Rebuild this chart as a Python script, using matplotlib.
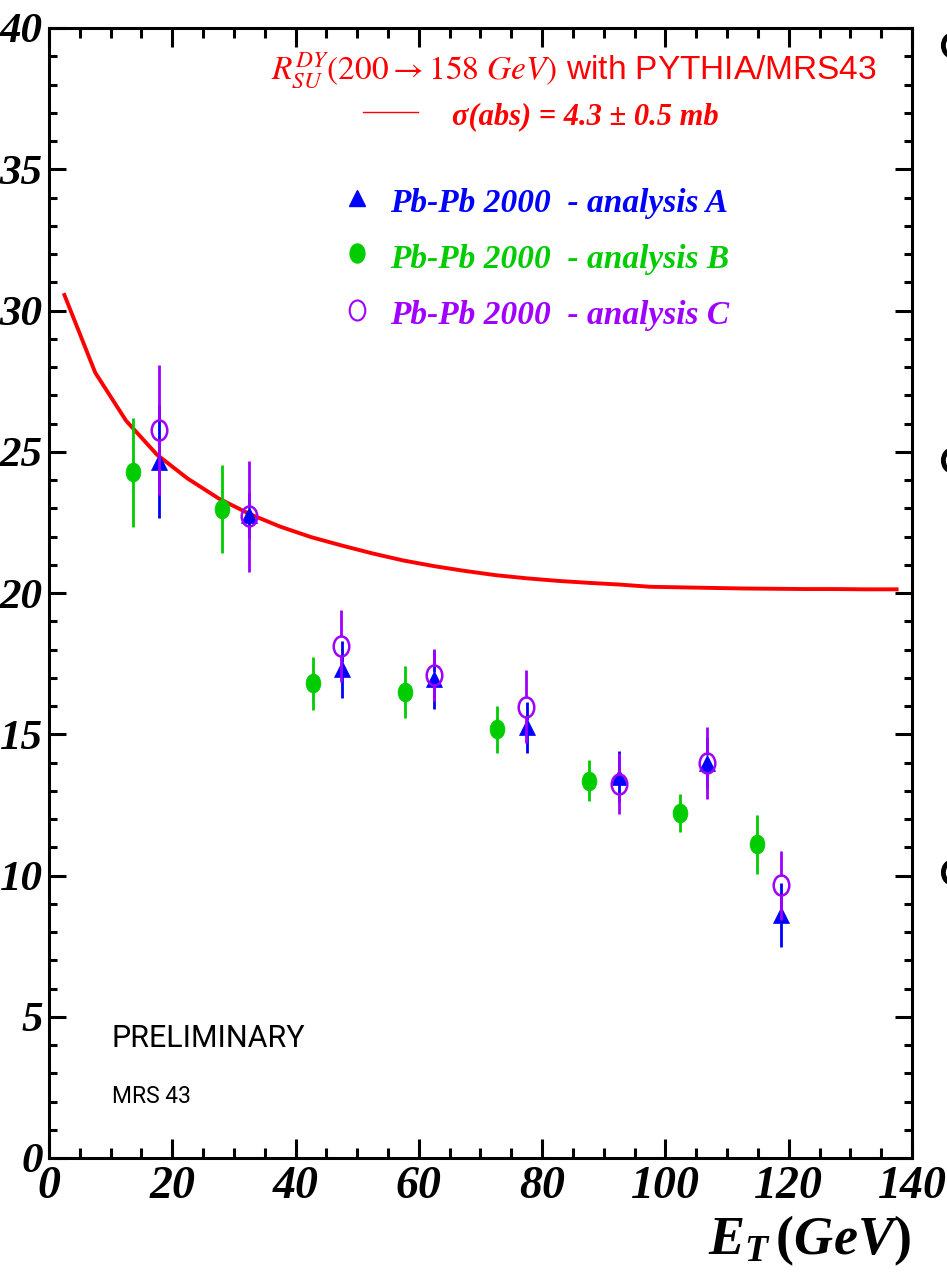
import matplotlib
matplotlib.use("Agg")
import matplotlib.pyplot as plt
from matplotlib.path import Path
from matplotlib.transforms import Affine2D
from matplotlib.ticker import MultipleLocator
from matplotlib.lines import Line2D

# ---------------- data ----------------
curve_x = [2.5, 7.5, 12.5, 17.5, 22.5, 27.5, 32.5, 37.5, 42.5, 47.5, 52.5, 57.5,
           62.5, 67.5, 72.5, 77.5, 82.5, 87.5, 92.5, 97.5, 102.5, 107.5, 112.5,
           117.5, 122.5, 127.5, 132.5, 137.5]
curve_y = [30.55, 27.8, 26.1, 24.9, 24.05, 23.35, 22.8, 22.35, 21.98, 21.68, 21.4,
           21.15, 20.95, 20.78, 20.63, 20.52, 20.43, 20.36, 20.3, 20.22, 20.2, 20.18,
           20.16, 20.15, 20.14, 20.14, 20.13, 20.13]

A_x = [17.8, 32.5, 47.5, 62.5, 77.5, 92.5, 106.8, 118.7]
A_y = [24.65, 22.75, 17.3, 16.95, 15.25, 13.5, 14.0, 8.6]
A_err = [2.0, 0.8, 1.0, 1.05, 0.9, 0.9, 0.9, 1.12]

B_x = [13.7, 28.1, 42.9, 57.8, 72.7, 87.6, 102.4, 114.8]
B_y = [24.27, 22.97, 16.8, 16.5, 15.18, 13.36, 12.22, 11.1]
B_err = [1.93, 1.55, 0.95, 0.93, 0.83, 0.74, 0.67, 1.05]

C_x = [17.8, 32.5, 47.4, 62.5, 77.4, 92.5, 106.7, 118.7]
C_y = [25.77, 22.72, 18.13, 17.1, 15.98, 13.25, 13.99, 9.65]
C_err = [2.3, 1.96, 1.27, 0.92, 1.28, 1.07, 1.27, 1.22]

legend_labels = ["Pb-Pb 2000  - analysis A",
                 "Pb-Pb 2000  - analysis B",
                 "Pb-Pb 2000  - analysis C"]

RED = "#ff0000"
BLUE = "#0000ff"
GREEN = "#00cc00"
PURPLE = "#a000ff"

plt.rcParams["mathtext.fontset"] = "custom"
plt.rcParams["mathtext.it"] = "Liberation Serif:italic:bold"
plt.rcParams["mathtext.rm"] = "Liberation Serif:bold"
plt.rcParams["mathtext.bf"] = "Liberation Serif:bold"

SERIF_BI = dict(family="Liberation Serif", weight="bold", style="italic")

fig = plt.figure(figsize=(9.47, 12.76), dpi=100)
ax = fig.add_axes([49 / 947, 1 - 1158 / 1276, 863 / 947, 1130 / 1276])
ax.set_xlim(0, 140)
ax.set_ylim(0, 40)

ell = Path.unit_circle().transformed(Affine2D().scale(0.78, 1.0))

def gapped_errors(xs, ys, errs, gap, color, lw, z):
    lo_top = [y + gap for y in ys]
    hi_top = [y + e for y, e in zip(ys, errs)]
    lo_bot = [y - e for y, e in zip(ys, errs)]
    hi_bot = [y - gap for y in ys]
    ax.vlines(xs, lo_top, hi_top, colors=color, lw=lw, zorder=z)
    ax.vlines(xs, lo_bot, hi_bot, colors=color, lw=lw, zorder=z)

# curve
ax.plot(curve_x, curve_y, color=RED, lw=2.8, zorder=2, solid_joinstyle="miter")

# green (B)
gapped_errors(B_x, B_y, B_err, 0.3, GREEN, 2.0, 3)
ax.plot(B_x, B_y, ls="none", marker=ell, ms=13.7, mfc=GREEN, mec=GREEN, mew=0.5, zorder=3)
# blue (A)
gapped_errors(A_x, A_y, A_err, 0.25, BLUE, 2.0, 4)
ax.plot(A_x, A_y, ls="none", marker="^", ms=11, mfc=BLUE, mec=BLUE, mew=0.5, zorder=4)
# purple (C)
gapped_errors(C_x, C_y, C_err, 0.35, PURPLE, 2.0, 5)
ax.plot(C_x, C_y, ls="none", marker=ell, ms=14.4, mfc="none", mec=PURPLE, mew=1.8, zorder=5)

# axes styling
for s in ax.spines.values():
    s.set_linewidth(2.2)
ax.xaxis.set_major_locator(MultipleLocator(20))
ax.xaxis.set_minor_locator(MultipleLocator(5))
ax.yaxis.set_major_locator(MultipleLocator(5))
ax.yaxis.set_minor_locator(MultipleLocator(1))
ax.tick_params(axis="both", which="both", direction="in", top=True, right=True, width=2.2, color="black")
ax.tick_params(axis="x", which="major", length=14, pad=6)
ax.tick_params(axis="x", which="minor", length=7)
ax.tick_params(axis="y", which="major", length=12, pad=4.5)
ax.tick_params(axis="y", which="minor", length=6)
for lab in ax.get_xticklabels():
    lab.set_fontfamily("Liberation Serif")
    lab.set_fontweight("bold")
    lab.set_fontstyle("italic")
    lab.set_fontsize(33)
for lab in ax.get_yticklabels():
    lab.set_fontfamily("Liberation Serif")
    lab.set_fontweight("bold")
    lab.set_fontstyle("italic")
    lab.set_fontsize(31)

# x label
ax.text(0.998, -0.085, r"$E_T\,(GeV)$", transform=ax.transAxes, ha="right", va="baseline",
        fontsize=39, math_fontfamily="custom", color="black")

# red annotation
ax.text(0.608, 0.955, r"$R^{DY}_{SU}(200 \rightarrow 158\ GeV)$ with PYTHIA/MRS43",
        transform=ax.transAxes, ha="center", va="baseline", color=RED,
        fontsize=24, family="Liberation Sans", math_fontfamily="stix")
ax.plot([0.364, 0.427], [0.9257, 0.9257], transform=ax.transAxes, color=RED, lw=1.0)
ax.text(0.467, 0.915, "σ(abs) = 4.3 ± 0.5 mb", transform=ax.transAxes, ha="left",
        va="baseline", color=RED, fontsize=22, **SERIF_BI)

# legend entries
leg_y_text = [0.837, 0.788, 0.738]
leg_y_mark = [0.8496, 0.8009, 0.7504]
leg_colors = [BLUE, GREEN, PURPLE]
ax.plot([0.357], [leg_y_mark[0]], transform=ax.transAxes, marker="^", ms=11,
        mfc=BLUE, mec=BLUE, ls="none")
ax.plot([0.357], [leg_y_mark[1]], transform=ax.transAxes, marker=ell, ms=13.7,
        mfc=GREEN, mec=GREEN, ls="none")
ax.plot([0.357], [leg_y_mark[2]], transform=ax.transAxes, marker=ell, ms=14.4,
        mfc="none", mec=PURPLE, mew=1.5, ls="none")
for lab, yy, col in zip(legend_labels, leg_y_text, leg_colors):
    ax.text(0.395, yy, lab, transform=ax.transAxes, ha="left", va="baseline",
            color=col, fontsize=24, **SERIF_BI)

# preliminary text
ax.text(0.073, 0.0982, "PRELIMINARY", transform=ax.transAxes, ha="left", va="baseline",
        fontsize=22, family="Roboto", weight="normal", color="black")
ax.text(0.073, 0.0487, "MRS 43", transform=ax.transAxes, ha="left", va="baseline",
        fontsize=16.5, family="Roboto", weight="normal", color="black")

# fragments of a neighbouring panel visible at the right edge
for py in [45, 460, 872]:
    fig.add_artist(Line2D([951 / 947], [1 - py / 1276], transform=fig.transFigure,
                          marker=ell, ms=15, mfc="none", mec="black", mew=3.5, ls="none"))

fig.savefig("out.png", dpi=100)
